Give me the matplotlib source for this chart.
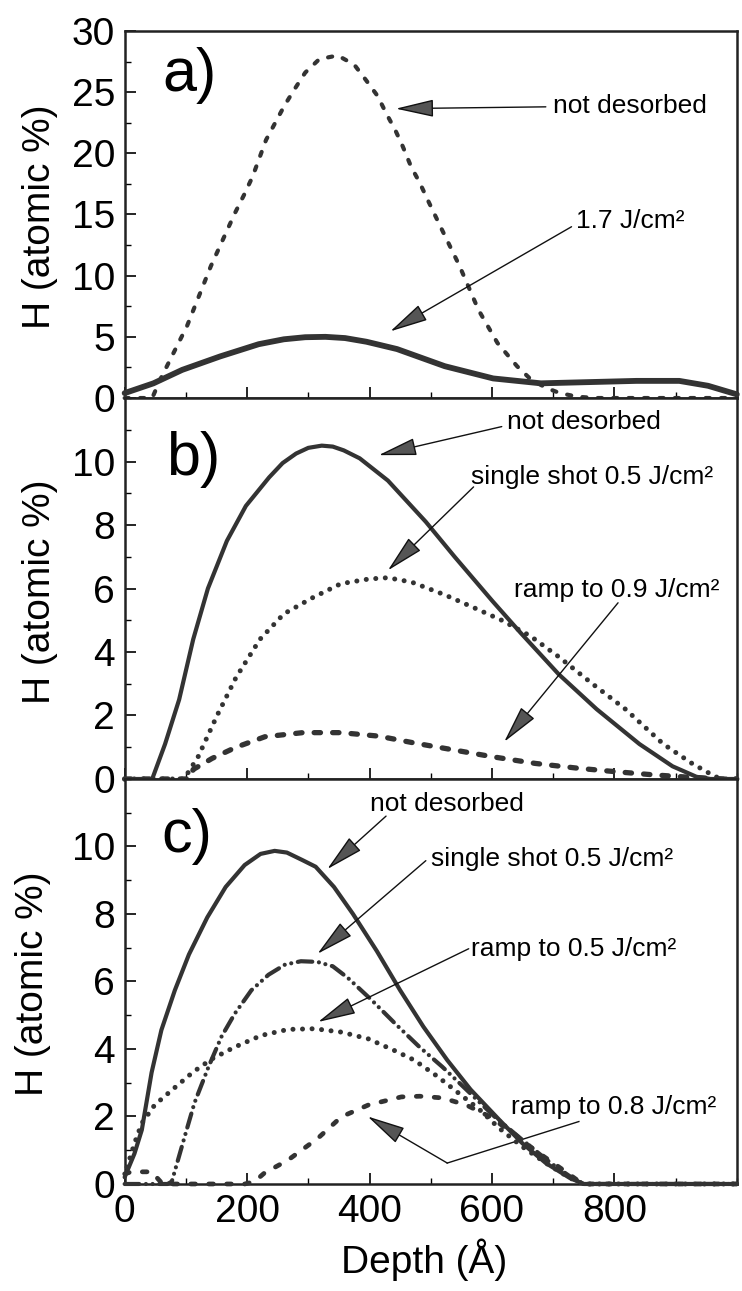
import matplotlib
matplotlib.use("Agg")
import matplotlib.pyplot as plt
from matplotlib.ticker import MultipleLocator

plt.rcParams['font.family'] = ['Liberation Sans', 'DejaVu Sans']

# ---------------- data: hydrogen depth profiles ----------------
# panel a
a_notdes_x = [0, 45, 58, 102, 141, 180, 195, 209, 220, 231, 246, 261, 277, 295, 318, 348,
              375, 394, 413, 427, 443, 454, 468, 482, 495, 516, 547, 578, 609, 641, 664,
              690, 711, 740, 770, 1000]
a_notdes_y = [0, 0, 1.5, 5.9, 10.8, 15.1, 16.6, 18.1, 19.6, 21.1, 22.5, 23.9, 25.2, 26.6, 27.7, 28.0,
              27.25, 26.0, 24.7, 23.3, 21.8, 20.6, 18.9, 17.6, 16.2, 14.0, 10.8, 7.2, 4.5, 2.6, 1.5,
              0.8, 0.4, 0.1, 0, 0]
a_17_x = [0, 47, 94, 156, 219, 260, 295, 328, 360, 395, 445, 523, 602, 680, 758, 836, 906,
          953, 1000]
a_17_y = [0.4, 1.2, 2.3, 3.4, 4.4, 4.8, 4.97, 5.0, 4.9, 4.6, 4.0, 2.6, 1.6, 1.2, 1.3, 1.4, 1.4,
          1.0, 0.3]

# panel b
b_notdes_x = [0, 45, 66, 89, 112, 136, 167, 198, 236, 258, 280, 300, 322, 340, 358, 384,
              430, 492, 539, 601, 647, 709, 771, 841, 895, 934, 957, 1000]
b_notdes_y = [0, 0, 1.1, 2.5, 4.4, 6.0, 7.5, 8.6, 9.5, 9.95, 10.25, 10.43, 10.5, 10.47, 10.35, 10.1,
              9.4, 8.1, 7.0, 5.6, 4.6, 3.3, 2.2, 1.1, 0.4, 0.07, 0, 0]
b_single_x = [0, 97, 120, 151, 182, 221, 260, 306, 353, 399, 430, 469, 523, 570, 616,
              663, 709, 764, 818, 880, 926, 965, 980, 1000]
b_single_y = [0, 0, 0.7, 2.0, 3.2, 4.4, 5.2, 5.7, 6.15, 6.3, 6.34, 6.2, 5.8, 5.4, 5.0,
              4.5, 3.85, 3.0, 2.2, 1.1, 0.5, 0.07, 0, 0]
b_ramp09_x = [0, 105, 112, 143, 182, 229, 291, 353, 415, 477, 539, 601, 671, 740,
              802, 864, 926, 981, 1000]
b_ramp09_y = [0, 0, 0.3, 0.65, 1.0, 1.33, 1.46, 1.46, 1.35, 1.12, 0.91, 0.7, 0.49, 0.34,
              0.23, 0.13, 0.05, 0, 0]

# panel c
c_notdes_x = [0, 16, 28, 44, 60, 82, 105, 135, 165, 196, 222, 245, 265, 290, 312, 342, 373,
              412, 450, 488, 527, 565, 612, 650, 688, 727, 750, 1000]
c_notdes_y = [0.2, 0.9, 1.6, 3.3, 4.56, 5.74, 6.8, 7.9, 8.8, 9.45, 9.78, 9.87, 9.82, 9.6, 9.4, 8.8, 8.0,
              6.9, 5.74, 4.66, 3.67, 2.8, 1.9, 1.2, 0.62, 0.18, 0, 0]
c_single_x = [0, 70, 77, 98, 114, 137, 158, 180, 207, 235, 262, 288, 315, 340, 365, 404, 442,
              481, 519, 558, 604, 650, 696, 735, 750, 1000]
c_single_y = [0, 0, 0.07, 1.4, 2.4, 3.47, 4.36, 5.05, 5.74, 6.2, 6.5, 6.6, 6.58, 6.45, 6.1, 5.44, 4.75,
              4.07, 3.47, 2.8, 2.0, 1.3, 0.62, 0.13, 0, 0]
c_ramp05_x = [4, 16, 28, 49, 77, 112, 142, 179, 223, 267, 310, 354, 398, 440, 473,
              510, 545, 580, 612, 650, 688, 727, 750, 1000]
c_ramp05_y = [0.5, 1.2, 1.8, 2.34, 2.78, 3.32, 3.7, 4.05, 4.4, 4.58, 4.6, 4.5, 4.3, 3.96, 3.67,
              3.2, 2.7, 2.2, 1.65, 1.1, 0.62, 0.18, 0, 0]
c_ramp08_x = [0, 11, 44, 52, 62, 100, 196, 212, 228, 267, 316, 354, 398, 452, 482, 519,
              558, 596, 635, 673, 712, 742, 758, 1000]
c_ramp08_y = [0.3, 0.36, 0.36, 0.2, 0, 0, 0, 0.07, 0.32, 0.71, 1.36, 1.99, 2.34, 2.58, 2.6, 2.55,
              2.34, 2.0, 1.5, 0.96, 0.47, 0.08, 0, 0]

x_ticks_major = [0, 200, 400, 600, 800]
x_tick_labels = ['0', '200', '400', '600', '800']

# ---------------- figure ----------------
fig = plt.figure(figsize=(7.42, 12.91), dpi=100)
left, width = 0.168, 0.825
ax_a = fig.add_axes([left, 0.6917, width, 0.2843])
ax_b = fig.add_axes([left, 0.3966, width, 0.2951])
ax_c = fig.add_axes([left, 0.0829, width, 0.3137])

ink = '#333333'
SOLID = dict(color=ink, lw=3.0, solid_capstyle='round', solid_joinstyle='round',
             clip_on=False, zorder=3)
DOTTED = dict(color=ink, lw=3.6, linestyle=(0, (0.01, 1.9)), dash_capstyle='round',
              clip_on=False, zorder=3)
DASHED_A = dict(color=ink, lw=3.0, linestyle=(0, (1.0, 2.7)), dash_capstyle='round',
                clip_on=False, zorder=3)
DASHED_B = dict(color=ink, lw=3.8, linestyle=(0, (1.2, 2.3)), dash_capstyle='round',
                clip_on=False, zorder=3)
DASHED_C = dict(color=ink, lw=3.4, linestyle=(0, (1.0, 2.8)), dash_capstyle='round',
                clip_on=False, zorder=3)
DASHDOTDOT = dict(color=ink, lw=3.0, linestyle=(0, (3.5, 1.6, 0.01, 1.6, 0.01, 1.6)),
                  dash_capstyle='round', clip_on=False, zorder=3)

# panel a
ax_a.plot(a_notdes_x, a_notdes_y, **DASHED_A)
ax_a.plot(a_17_x, a_17_y, **dict(SOLID, lw=4.2))
# panel b
ax_b.plot(b_notdes_x, b_notdes_y, **SOLID)
ax_b.plot(b_single_x, b_single_y, **DOTTED)
ax_b.plot(b_ramp09_x, b_ramp09_y, **DASHED_B)
# panel c
ax_c.plot(c_notdes_x, c_notdes_y, **SOLID)
ax_c.plot(c_single_x, c_single_y, **DASHDOTDOT)
ax_c.plot(c_ramp05_x, c_ramp05_y, **DOTTED)
ax_c.plot(c_ramp08_x, c_ramp08_y, **DASHED_C)

TICK_FS = 28
for ax, ymax, ystep, yminor in [(ax_a, 30, 5, 2.5), (ax_b, 12, 2, 1), (ax_c, 12, 2, 1)]:
    ax.set_xlim(0, 1000)
    ax.set_ylim(0, ymax)
    ax.set_xticks(x_ticks_major)
    ax.xaxis.set_minor_locator(MultipleLocator(100))
    top_label = 30 if ymax == 30 else 10
    ax.set_yticks(list(range(0, top_label + 1, ystep)))
    ax.yaxis.set_minor_locator(MultipleLocator(yminor))
    ax.tick_params(axis='both', which='major', direction='in', length=8, width=1.2,
                   labelsize=TICK_FS, pad=7)
    ax.tick_params(axis='both', which='minor', direction='in', length=4, width=1.0)
    for sp in ax.spines.values():
        sp.set_linewidth(1.8)
        sp.set_color('#222222')

ax_a.tick_params(axis='x', labelbottom=False)
ax_b.tick_params(axis='x', labelbottom=False)
ax_c.set_xticklabels(x_tick_labels)

# axis labels
for yc, xc in [(0.832, 0.054), (0.542, 0.054), (0.238, 0.044)]:
    fig.text(xc, yc, 'H (atomic %)', rotation=90, ha='center', va='center', fontsize=28)
fig.text(0.571, 0.024, 'Depth (Å)', ha='center', va='center', fontsize=28)

# panel letters
ax_a.text(106, 26.4, 'a)', fontsize=44, ha='center', va='center')
ax_b.text(112, 10.05, 'b)', fontsize=44, ha='center', va='center')
ax_c.text(102, 10.3, 'c)', fontsize=44, ha='center', va='center')

# annotations
ANN_FS = 19
ARROW = dict(arrowstyle='-|>,head_length=2.4,head_width=0.55', mutation_scale=10,
             facecolor='#555555', edgecolor='#111111', lw=1.0, shrinkA=0, shrinkB=0)


def label_arrow(ax, text, txy, start, tip):
    ax.text(txy[0], txy[1], text, fontsize=ANN_FS, ha='left', va='center')
    ax.annotate('', xy=tip, xytext=start, arrowprops=ARROW)


label_arrow(ax_a, 'not desorbed', (699, 23.9), (688, 23.8), (443, 23.65))
label_arrow(ax_a, '1.7 J/cm²', (738, 14.45), (730, 14.0), (434, 5.45))

label_arrow(ax_b, 'not desorbed', (624, 11.24), (616, 11.1), (415, 10.2))
label_arrow(ax_b, 'single shot 0.5 J/cm²', (566, 9.5), (570, 9.2), (430, 6.57))
label_arrow(ax_b, 'ramp to 0.9 J/cm²', (636, 5.94), (806, 5.55), (620, 1.17))

label_arrow(ax_c, 'not desorbed', (400, 11.25), (427, 10.9), (331, 9.33))
label_arrow(ax_c, 'single shot 0.5 J/cm²', (500, 9.63), (492, 9.58), (315, 6.82))
label_arrow(ax_c, 'ramp to 0.5 J/cm²', (565, 6.97), (562, 6.97), (316, 4.8))
# bent leader for the last label
ax_c.text(631, 2.29, 'ramp to 0.8 J/cm²', fontsize=ANN_FS, ha='left', va='center')
ax_c.plot([742, 527], [1.85, 0.62], color='#111111', lw=1.0)
ax_c.annotate('', xy=(397, 2.0), xytext=(527, 0.62), arrowprops=ARROW)

fig.savefig('out.png', dpi=100)
